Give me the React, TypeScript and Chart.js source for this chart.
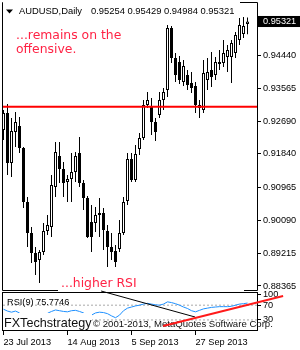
import React, { useEffect, useRef } from 'react';
import { Chart, registerables } from 'chart.js';

Chart.register(...registerables);

// ---------- text ----------
const symbolLabel = 'AUDUSD,Daily';
const quoteLabel = '0.95254 0.95429 0.94984 0.95321';
const noteTop = ['...remains on the', 'offensive.'];
const noteBottom = '...higher RSI';
const rsiLabel = 'RSI(9) 75.7746';
const brandLabel = 'FXTechstrategy';
const copyrightLabel = '\u00A9 2001-2013, MetaQuotes Software Corp.';

// ---------- data (AUDUSD daily, 23 Jul 2013 .. mid Oct 2013) ----------
const opens = [
  0.92468, 0.92915, 0.91600, 0.92415, 0.92573, 0.91994, 0.90574, 0.89759, 0.89233, 0.89049,
  0.89259, 0.89811, 0.89916, 0.90968, 0.91784, 0.91442, 0.91100, 0.91179, 0.91363, 0.91863,
  0.91074, 0.90679, 0.90048, 0.90022, 0.90232, 0.90285, 0.89811, 0.89390, 0.89285, 0.89338,
  0.89759, 0.90600, 0.91705, 0.91153, 0.91968, 0.92257, 0.93125, 0.93099, 0.92678, 0.92862,
  0.93257, 0.93520, 0.95150, 0.94361, 0.94256, 0.93730, 0.93914, 0.93704, 0.93625, 0.93125,
  0.92994, 0.93783, 0.94046, 0.93914, 0.94256, 0.94230, 0.94387, 0.94387, 0.94493, 0.94835,
  0.94992, 0.95254,
];
const highs = [
  0.92994, 0.93151, 0.92783, 0.92941, 0.92809, 0.92020, 0.90705, 0.89916, 0.89390, 0.89312,
  0.90022, 0.90232, 0.91284, 0.92152, 0.92152, 0.91626, 0.91284, 0.91863, 0.91889, 0.92283,
  0.91153, 0.90732, 0.90495, 0.90442, 0.90679, 0.90416, 0.89969, 0.89759, 0.89443, 0.90101,
  0.90705, 0.91863, 0.91863, 0.92073, 0.92389, 0.93257, 0.93467, 0.93309, 0.92783, 0.93467,
  0.93572, 0.95229, 0.95203, 0.94493, 0.94414, 0.94309, 0.94046, 0.93993, 0.93730, 0.93257,
  0.94309, 0.94361, 0.94519, 0.94387, 0.94572, 0.94835, 0.94703, 0.94835, 0.95045, 0.95413,
  0.95439, 0.95429,
];
const lows = [
  0.92205, 0.91284, 0.91231, 0.92020, 0.91863, 0.90416, 0.89390, 0.88970, 0.88654, 0.88444,
  0.89180, 0.89706, 0.89653, 0.90705, 0.91074, 0.90705, 0.90574, 0.90574, 0.91100, 0.90968,
  0.90364, 0.89627, 0.89259, 0.89785, 0.89653, 0.89312, 0.88864, 0.89049, 0.88864, 0.89259,
  0.89706, 0.90495, 0.91100, 0.91100, 0.91810, 0.92205, 0.93046, 0.92336, 0.92178, 0.92783,
  0.92994, 0.93335, 0.94230, 0.93730, 0.93677, 0.93625, 0.93520, 0.93441, 0.92915, 0.92783,
  0.92915, 0.93520, 0.93598, 0.93783, 0.94046, 0.94124, 0.93993, 0.93704, 0.94361, 0.94703,
  0.94887, 0.94984,
];
const closes = [
  0.92915, 0.91600, 0.92441, 0.92678, 0.91994, 0.90574, 0.89759, 0.89233, 0.88996, 0.89259,
  0.89811, 0.89969, 0.91021, 0.91889, 0.91442, 0.91074, 0.91179, 0.91363, 0.91784, 0.91074,
  0.90679, 0.89653, 0.89653, 0.90232, 0.90285, 0.89838, 0.89390, 0.89259, 0.88996, 0.89759,
  0.90574, 0.91705, 0.91153, 0.91836, 0.92257, 0.93125, 0.93257, 0.92678, 0.92415, 0.93257,
  0.93467, 0.95150, 0.94361, 0.93914, 0.93783, 0.94151, 0.93651, 0.93572, 0.93125, 0.93046,
  0.93967, 0.93993, 0.93861, 0.94256, 0.94203, 0.94493, 0.94572, 0.94756, 0.94966, 0.95229,
  0.95203, 0.95321,
];
const rsiValues = [
  59, 54, 51, 54, 49, 38, 30, 26, 24, 26,
  35, 48, 53, 57, 55, 53, 52, 55, 56, 53,
  49, 40, 43, 49, 51, 50, 47, 41, 36, 43,
  55, 62, 65, 68, 70, 73, 75, 73, 71, 70,
  73, 79, 77, 74, 70, 65, 61, 55, 52, 56,
  60, 62, 64, 65, 66, 66, 66, 67, 70, 73,
  74, 75.7746,
];

const priceTicks = [0.88365, 0.89215, 0.90090, 0.90965, 0.91840, 0.92690, 0.93565, 0.94440, 0.95321];
const currentPrice = 0.95321;
const resistanceLevel = 0.9308;
const rsiTicks = [100, 70, 30];
const rsiLevels = [70, 30];
const dateTickIndex = [0, 16, 32, 48];
const dateLabels = ['23 Jul 2013', '14 Aug 2013', '5 Sep 2013', '27 Sep 2013'];
const blackTrendIndex = [24.4, 47.9];
const blackTrendRsi = [108.4, 37.9];
const redTrendIndex = [39.9, 69.9];
const redTrendRsi = [13.6, 94.9];

// ---------- scale ranges ----------
const X_MIN = -0.125;
const X_MAX = 63.375;
const PRICE_MIN = 0.882332;
const PRICE_MAX = 0.958076;
const RSI_MIN = 0;
const RSI_MAX = 103;

const SMALL_FAMILY = "'Liberation Sans', Arial, sans-serif";
const SMALL_SIZE = 9.2;
const NOTE_FONT = "12.4px 'DejaVu Sans', Verdana, sans-serif";
const NOTE_COLOR = '#ff2244';

const priceDecor = {
  id: 'priceDecor',
  beforeDatasetsDraw(chart: any) {
    const { ctx, chartArea: a } = chart;
    ctx.save();
    ctx.strokeStyle = '#000';
    ctx.lineWidth = 1;
    ctx.beginPath();
    ctx.moveTo(a.left - 0.5, a.top - 0.5);
    ctx.lineTo(a.right + 0.5, a.top - 0.5);
    ctx.lineTo(a.right + 0.5, a.bottom - 0.5);
    ctx.lineTo(a.left - 0.5, a.bottom - 0.5);
    ctx.closePath();
    ctx.stroke();
    ctx.restore();
  },
  afterDraw(chart: any) {
    const { ctx, chartArea: a } = chart;
    ctx.save();
    // title strip
    ctx.fillStyle = '#fff';
    ctx.fillRect(a.left, 0, 237, a.top + 13);
    ctx.fillStyle = '#000';
    ctx.beginPath();
    ctx.moveTo(a.left + 3, a.top + 6.5);
    ctx.lineTo(a.left + 10, a.top + 6.5);
    ctx.lineTo(a.left + 6.5, a.top + 10.5);
    ctx.closePath();
    ctx.fill();
    ctx.font = `9.4px ${SMALL_FAMILY}`;
    ctx.textBaseline = 'alphabetic';
    ctx.textAlign = 'left';
    ctx.fillText(symbolLabel, a.left + 16, a.top + 11);
    ctx.fillText(quoteLabel, a.left + 88, a.top + 11);
    // red note top
    ctx.font = NOTE_FONT;
    ctx.fillStyle = NOTE_COLOR;
    ctx.fillText(noteTop[0], a.left + 13, a.top + 35.5);
    ctx.fillText(noteTop[1], a.left + 13, a.top + 49.5);
    // red note bottom with white label box
    ctx.fillStyle = '#fff';
    ctx.fillRect(a.left + 55, a.bottom - 17, 186, 17);
    ctx.fillStyle = NOTE_COLOR;
    ctx.fillText(noteBottom, a.left + 58, a.bottom - 4);
    ctx.restore();
  },
};

const rsiDecor = {
  id: 'rsiDecor',
  beforeDatasetsDraw(chart: any) {
    const { ctx, chartArea: a } = chart;
    ctx.save();
    ctx.strokeStyle = '#000';
    ctx.lineWidth = 1;
    ctx.strokeRect(a.left - 0.5, a.top - 0.5, a.right - a.left + 1, a.bottom - a.top);
    ctx.restore();
  },
  afterDatasetDraw(chart: any, args: any) {
    if (args.index !== 2) return;
    const { ctx, chartArea: a } = chart;
    ctx.save();
    ctx.fillStyle = '#fff';
    ctx.fillRect(a.left, a.top + 20, 89, a.bottom - a.top - 21);
    ctx.fillStyle = '#111';
    ctx.textBaseline = 'alphabetic';
    ctx.textAlign = 'left';
    ctx.font = `12.6px ${SMALL_FAMILY}`;
    ctx.fillText(brandLabel, a.left + 1, a.top + 34);
    ctx.font = `9.6px ${SMALL_FAMILY}`;
    ctx.fillText(copyrightLabel, a.left + 90, a.top + 34);
    ctx.fillStyle = '#000';
    ctx.font = `${SMALL_SIZE}px ${SMALL_FAMILY}`;
    ctx.fillText(rsiLabel, a.left + 4, a.top + 12);
    ctx.restore();
  },
};

export default function App() {
  const priceRef = useRef<HTMLCanvasElement>(null);
  const rsiRef = useRef<HTMLCanvasElement>(null);

  useEffect(() => {
    document.body.style.margin = '0';
    const smallFont = { family: SMALL_FAMILY, size: SMALL_SIZE };

    const priceChart = new Chart(priceRef.current as HTMLCanvasElement, {
      type: 'bar',
      data: {
        datasets: [
          {
            type: 'line',
            data: [
              { x: X_MIN, y: resistanceLevel },
              { x: X_MAX, y: resistanceLevel },
            ],
            borderColor: '#ff0000',
            borderWidth: 2,
            pointRadius: 0,
          } as any,
          {
            type: 'bar',
            data: opens.map((o, i) => ({ x: i, y: [o, closes[i]] })),
            backgroundColor: opens.map((o, i) => (closes[i] >= o ? '#ffffff' : '#000000')),
            borderColor: '#000000',
            borderWidth: 1,
            borderSkipped: false,
            barThickness: 3,
            grouped: false,
            inflateAmount: 0,
          } as any,
          {
            type: 'bar',
            data: lows.map((l, i) => ({ x: i, y: [l, highs[i]] })),
            backgroundColor: '#000000',
            borderWidth: 0,
            barThickness: 1,
            grouped: false,
            inflateAmount: 0,
          } as any,
        ],
      },
      options: {
        animation: false,
        responsive: false,
        events: [],
        layout: { padding: { left: 3, top: 3, right: 0, bottom: 59 } },
        plugins: { legend: { display: false }, tooltip: { enabled: false } },
        scales: {
          x: { type: 'linear', min: X_MIN, max: X_MAX, display: false, offset: false, grid: { offset: false } },
          y: {
            type: 'linear',
            position: 'right',
            min: PRICE_MIN,
            max: PRICE_MAX,
            afterBuildTicks: (s: any) => {
              s.ticks = priceTicks.map((v) => ({ value: v }));
            },
            afterFit: (s: any) => {
              s.width = 43;
              s.paddingTop = 0;
              s.paddingBottom = 0;
            },
            grid: {
              drawOnChartArea: false,
              drawTicks: true,
              tickLength: 4,
              color: '#000',
              tickColor: (c: any) => (c.tick && c.tick.value === currentPrice ? 'rgba(0,0,0,0)' : '#000'),
            },
            border: { display: false },
            ticks: {
              autoSkip: false,
              padding: 2,
              font: smallFont,
              color: (c: any) => (c.tick && c.tick.value === currentPrice ? '#ffffff' : '#000000'),
              showLabelBackdrop: (c: any) => !!(c.tick && c.tick.value === currentPrice),
              backdropColor: '#000000',
              backdropPadding: { left: 5, right: 5, top: 0, bottom: 0 },
              callback: (v: any) => Number(v).toFixed(5),
            },
          } as any,
        },
      },
      plugins: [priceDecor],
    });

    const levelSets = rsiLevels.map((lv) => ({
      data: [
        { x: X_MIN, y: lv },
        { x: X_MAX, y: lv },
      ],
      borderColor: '#a8a8a8',
      borderDash: [2, 2],
      borderWidth: 1,
      pointRadius: 0,
    }));

    const rsiChart = new Chart(rsiRef.current as HTMLCanvasElement, {
      type: 'line',
      data: {
        datasets: [
          {
            data: redTrendIndex.map((x, i) => ({ x, y: redTrendRsi[i] })),
            borderColor: '#ff1a1a',
            borderWidth: 2,
            pointRadius: 0,
            clip: false,
          } as any,
          {
            data: blackTrendIndex.map((x, i) => ({ x, y: blackTrendRsi[i] })),
            borderColor: '#000000',
            borderWidth: 1,
            pointRadius: 0,
            clip: false,
          } as any,
          {
            data: rsiValues.map((v, i) => ({ x: i, y: v })),
            borderColor: '#1e90ff',
            borderWidth: 1,
            pointRadius: 0,
            tension: 0,
          },
          ...levelSets,
        ],
      },
      options: {
        animation: false,
        responsive: false,
        events: [],
        layout: { padding: { left: 3, top: 293, right: 0, bottom: 0 } },
        plugins: { legend: { display: false }, tooltip: { enabled: false } },
        scales: {
          x: {
            type: 'linear',
            min: X_MIN,
            max: X_MAX,
            offset: false,
            afterBuildTicks: (s: any) => {
              s.ticks = dateTickIndex.map((v) => ({ value: v }));
            },
            afterFit: (s: any) => {
              s.height = 19;
              s.paddingLeft = 0;
              s.paddingRight = 0;
            },
            grid: { drawOnChartArea: false, drawTicks: true, tickLength: 4, color: '#000', offset: false },
            border: { display: false },
            ticks: {
              align: 'start',
              maxRotation: 0,
              minRotation: 0,
              autoSkip: false,
              padding: 2,
              font: smallFont,
              color: '#000',
              callback: (_v: any, idx: number) => dateLabels[idx],
            },
          } as any,
          y: {
            type: 'linear',
            position: 'right',
            min: RSI_MIN,
            max: RSI_MAX,
            afterBuildTicks: (s: any) => {
              s.ticks = rsiTicks.map((v) => ({ value: v }));
            },
            afterFit: (s: any) => {
              s.width = 43;
              s.paddingTop = 0;
              s.paddingBottom = 0;
            },
            grid: { drawOnChartArea: false, drawTicks: true, tickLength: 4, color: '#000' },
            border: { display: false },
            ticks: {
              autoSkip: false,
              padding: 2,
              font: smallFont,
              color: '#000',
              callback: (v: any) => String(v),
            },
          } as any,
        },
      },
      plugins: [rsiDecor],
    });

    return () => {
      priceChart.destroy();
      rsiChart.destroy();
    };
  }, []);

  return (
    <div style={{ position: 'relative', width: 300, height: 350, background: '#fff' }}>
      <canvas ref={priceRef} width={300} height={350} style={{ position: 'absolute', left: 0, top: 0 }} />
      <canvas ref={rsiRef} width={300} height={350} style={{ position: 'absolute', left: 0, top: 0 }} />
    </div>
  );
}
